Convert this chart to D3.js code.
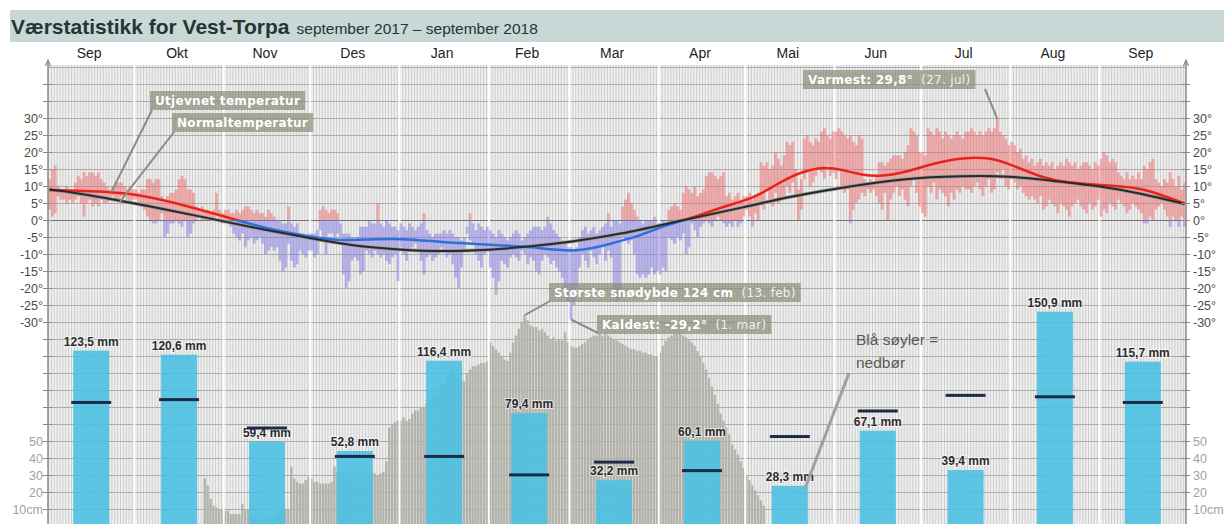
<!DOCTYPE html>
<meta charset="utf-8" />
<style>
  body { margin: 0; background: #fff; }
  text { font-family: "Liberation Sans", Arial, sans-serif; }
  .note text { font-family: "DejaVu Sans", Verdana, sans-serif; font-size: 12px; letter-spacing: 0.3px; fill: #fff; }
</style>
<body>
<script src="https://d3js.org/d3.v7.min.js"></script>
<script>
// month axis
const months = ['Sep', 'Okt', 'Nov', 'Des', 'Jan', 'Feb', 'Mar', 'Apr', 'Mai', 'Jun', 'Jul', 'Aug', 'Sep'];
const monthDays = [30, 31, 30, 31, 31, 28, 31, 30, 31, 30, 31, 31, 30];

// monthly precipitation (mm) and normal precipitation
const precip = [123.5, 120.6, 59.4, 52.8, 116.4, 79.4, 32.2, 60.1, 28.3, 67.1, 39.4, 150.9, 115.7];
const precipNormal = [87, 89, 69, 49, 49, 36, 45, 39, 63, 81, 92, 91, 87];

const tempTicks = [30, 25, 20, 15, 10, 5, 0, -5, -10, -15, -20, -25, -30];
const snowTicks = [10, 20, 30, 40, 50];

// daily max / min temperature, 1 Sep 2017 - 30 Sep 2018
const tmax = [
  12,15,16,10,9,9,10,9,9,11,13,12,14,13,14,14,13,14,12,11,10,9,10,11,11,11,10,9,10,9,
  9,8,9,9,12,12,11,12,12,7,6,7,8,8,9,12,13,12,9,9,8,4,3,4,3,3,2,3,8,3,2,
  3,3,2,2,3,2,3,4,4,3,2,3,2,2,1,3,2,1,0,0,-1,-1,4,-1,-2,-1,-4,-4,-5,-4,
  -4,-4,-3,3,4,3,2,3,3,2,-1,-4,-4,-4,-5,-6,-5,-2,-2,-2,0,-1,-1,5,-1,-2,0,-1,-2,-2,-3,
  -1,-2,-3,-1,-2,-3,-2,-1,2,-3,-4,-5,-4,-4,-4,-3,-4,-3,-4,-5,-5,-6,-5,-2,2,-1,-3,-1,-2,-3,-2,
  -3,-4,-5,-3,-4,-5,-6,-5,-4,-3,-4,-6,-5,-4,-3,-2,-2,-2,-3,-2,1,-1,-3,-4,-5,-6,-7,-8,
  -8,-9,-8,-5,-3,-2,-4,-3,-2,-4,-3,-2,-1,2,-2,0,0,-1,4,6,8,5,3,1,0,-1,0,0,0,1,-1,
  -1,0,-1,3,4,5,4,3,8,10,9,8,10,7,8,9,13,14,14,13,12,13,14,7,8,6,7,8,6,7,
  7,8,6,7,8,17,16,17,15,16,20,18,16,19,23,22,23,15,9,12,24,25,23,22,24,23,26,27,25,24,26,
  26,27,26,25,24,25,23,22,25,24,12,11,12,11,13,17,17,16,17,18,19,19,19,18,20,22,27,26,25,20,
  20,19,27,26,25,27,26,24,26,25,24,25,26,25,24,26,26,27,26,25,26,25,26,27,26,27,29.8,26,25,24,22,
  23,22,20,21,18,19,17,18,16,17,18,16,17,16,17,15,16,17,16,18,17,16,17,15,16,17,17,16,15,17,16,
  18,20,19,17,18,17,14,13,12,14,12,13,12,14,12,16,15,17,18,12,11,10,12,11,14,12,10,13,9,11
];
const tmin = [
  3,1,2,7,6,6,5,6,5,6,7,5,1,5,6,4,5,4,6,5,5,6,7,6,6,7,7,6,5,6,
  6,5,4,3,1,0,-1,-1,0,2,-5,-4,-1,-1,0,-1,-2,0,-5,-4,-1,0,1,0,0,1,0,0,1,0,-1,
  0,-1,-2,-4,-5,-6,-4,-8,-6,-5,-7,-6,-5,-7,-10,-9,-8,-9,-8,-12,-15,-14,-7,-12,-14,-13,-9,-10,-11,-9,
  -9,-11,-10,-3,-6,-10,-4,-4,-5,-4,-5,-16,-20,-18,-12,-11,-12,-16,-15,-9,-10,-11,-9,-10,-11,-10,-12,-13,-11,-10,-18,
  -8,-10,-12,-9,-8,-7,-9,-12,-16,-11,-10,-12,-11,-10,-8,-9,-11,-10,-13,-17,-20,-14,-9,-4,-6,-7,-10,-12,-14,-10,-9,
  -14,-17,-22,-18,-12,-13,-14,-11,-10,-11,-12,-9,-10,-13,-11,-12,-15,-16,-12,-10,-11,-13,-12,-14,-15,-17,-20,-24,
  -29.2,-25,-20,-14,-10,-12,-14,-9,-11,-13,-10,-8,-12,-9,-11,-20,-24,-23,-5,-6,-7,-6,-10,-16,-17,-16,-17,-16,-14,-16,-15,
  -16,-14,-15,-5,-6,-7,-5,-6,-4,-10,-8,-1,-3,-5,-2,-1,0,-1,-2,0,1,0,-1,-2,-1,-2,0,-2,-1,1,
  3,1,-2,2,0,5,3,9,6,4,8,5,6,7,10,8,11,7,0,3,12,14,10,11,13,15,14,12,16,13,14,
  12,15,10,8,9,-1,3,5,6,8,7,9,8,9,7,5,3,8,0,6,8,10,7,9,6,4,10,12,8,4,
  2,1,10,8,11,6,9,8,7,4,8,6,9,8,10,9,9,8,10,11,9,7,10,12,8,9,14,12,15,10,9,
  12,11,9,10,8,7,6,7,6,5,7,3,4,6,5,4,2,5,4,3,1,4,5,6,4,3,2,5,3,4,6,
  1,3,2,5,4,3,6,5,4,2,3,5,4,3,2,-1,-1,1,0,3,4,5,3,1,-2,1,0,-2,1,-2
];

// daily snow depth (cm) from 25 Oct 2017
const snowFirstDay = '2017-10-25';
const snow = [
  28,24,16,12,11,10,10,9,9,7,7,7,7,13,10,10,
  5,5,4,4,4,4,5,5,6,7, 9,10,10,10,
  35,28,26,25,25,27,29,28,26,26,25,25,25,25,26,35,32,
  31,32,32,31,31,31,32,32,31,31,31,
  31,31,30,31,32,38,58,60,61,62,
  62,64,62,63,66,68,68,70,70,
  72,74,76,78,80,82,84,88,92,93,90,87,
  86,85,90,92,94,94,95,96,96,97,
  108,106,104,102,100,98,97,102,108,112,116,120,124,
  121,118,117,117,115,116,114,112,110,111,109,110,109,114,108,
  106,105,105,106,107,108,110,111,112,112,113,112,113,112,111,110,109,108,107,106,105,104,104,103,103,102,102,101,101,100,100,
  102,106,109,111,112,113,113,113,112,111,110,108,106,103,100,
  96,92,87,82,77,72,66,62,58,54,48,45,42,38,34,30,27,24,21,18,15,12
];

// smoothed temperature ("Utjevnet") and normal temperature
const smoothDates = ['2017-09-01','2017-09-15','2017-10-01','2017-10-15','2017-11-01','2017-11-15','2017-12-01','2017-12-10',
  '2017-12-20','2018-01-01','2018-01-15','2018-02-01','2018-02-15','2018-03-03','2018-03-17','2018-03-24','2018-04-03',
  '2018-04-10','2018-04-21','2018-05-01','2018-05-05','2018-05-13','2018-05-20','2018-05-28','2018-06-03','2018-06-10',
  '2018-06-17','2018-06-25','2018-07-05','2018-07-15','2018-07-25','2018-08-01','2018-08-12','2018-08-20','2018-09-01',
  '2018-09-13','2018-09-19','2018-09-30'];
const smoothTemp = [8.8, 8.5, 7.8, 5, 1, -2.5, -5, -6, -5.8, -5.4, -6.5, -7.3, -7.8, -9.8, -6.4, -4.9, -1.5,
  0, 3.4, 5.9, 7.2, 11.3, 14.2, 15.7, 14.8, 13.2, 12.8, 14, 16.7, 18.4, 18.4, 16.2, 12.3, 11, 10.3, 9.6, 8.3, 4.9];
const normalDates = ['2017-09-01','2017-09-15','2017-10-01','2017-10-15','2017-11-01','2017-11-15','2017-12-01','2017-12-15',
  '2018-01-01','2018-01-15','2018-02-01','2018-02-15','2018-03-01','2018-03-17','2018-04-09','2018-05-01','2018-05-15',
  '2018-06-01','2018-06-25','2018-07-15','2018-08-01','2018-08-12','2018-09-01','2018-09-15','2018-09-30'];
const normalTemp = [9, 7.4, 4.8, 2.5, -0.5, -2.9, -5.4, -7.6, -8.8, -9.3, -8.8, -7.8, -6.4, -4.4, 0, 3.9, 6.7,
  9.3, 12.3, 13, 12.9, 11.8, 10, 7.8, 4.7];

const start = new Date('2017-09-01');
const dayOf = s => d3.utcDay.count(start, new Date(s));
const nDays = d3.sum(monthDays);
const monthStart = monthDays.map((d, i) => d3.sum(monthDays.slice(0, i)));

const W = 1224, H = 524;
const x = d3.scaleLinear().domain([0, nDays]).range([48, 1186]);
const yT = d3.scaleLinear().domain([-30, 30]).range([322, 118]);
const ySnow = d3.scaleLinear().domain([0, 50]).range([526, 441]);
const yPrec = d3.scaleLinear().domain([0, 100]).range([526, 384]);
const plotTop = yT(45) - 2;

const svg = d3.select('body').append('svg').attr('width', W).attr('height', H);

// title band
svg.append('rect').attr('x', 10).attr('y', 10).attr('width', W - 10).attr('height', 32).attr('fill', '#c9d7d6');
const title = svg.append('text').attr('x', 11).attr('y', 34).attr('fill', '#243535');
title.append('tspan').attr('font-size', 21).attr('font-weight', 'bold').text('Værstatistikk for Vest-Torpa');
title.append('tspan').attr('font-size', 15.5).attr('dx', 7).text('september 2017 – september 2018');

// month labels
svg.selectAll('.month').data(months).enter().append('text')
  .attr('x', (d, i) => x(monthStart[i] + monthDays[i] / 2) - 2)
  .attr('y', 58).attr('text-anchor', 'middle').attr('font-size', 14).attr('fill', '#222')
  .text(d => d);

// plot background
svg.append('clipPath').attr('id', 'plot').append('rect')
  .attr('x', x(0)).attr('y', plotTop).attr('width', x(nDays) - x(0)).attr('height', H - plotTop);
const g = svg.append('g').attr('clip-path', 'url(#plot)');
g.append('rect').attr('x', x(0)).attr('y', plotTop).attr('width', x(nDays) - x(0)).attr('height', H - plotTop).attr('fill', '#efefef');

// daily vertical lines
g.selectAll('.day').data(d3.range(nDays)).enter().append('line')
  .attr('x1', d => x(d) + 0.5).attr('x2', d => x(d) + 0.5).attr('y1', plotTop).attr('y2', H)
  .attr('stroke', '#cdcdcd').attr('stroke-width', 1);

// horizontal grid every 5 degrees
const gridVals = d3.range(45, -91, -5);
g.selectAll('.hgrid').data(gridVals).enter().append('line')
  .attr('x1', x(0)).attr('x2', x(nDays)).attr('y1', d => Math.round(yT(d)) + 0.5).attr('y2', d => Math.round(yT(d)) + 0.5)
  .attr('stroke', d => d === 0 ? '#747474' : '#acacac').attr('stroke-width', 1);

// snow depth
const snow0 = dayOf(snowFirstDay);
g.selectAll('.snow').data(snow).enter().append('rect')
  .attr('x', (d, i) => x(snow0 + i)).attr('width', x(1) - x(0) - 0.5)
  .attr('y', d => ySnow(d)).attr('height', d => ySnow(0) - ySnow(d) + 2)
  .attr('fill', '#b3b3ab');

// month boundaries
g.selectAll('.mline').data(monthStart.slice(1)).enter().append('line')
  .attr('x1', d => x(d)).attr('x2', d => x(d)).attr('y1', plotTop).attr('y2', H)
  .attr('stroke', '#fff').attr('stroke-width', 2);

// precipitation bars
const bw = 36;
const mid = i => x(monthStart[i] + monthDays[i] / 2);
g.selectAll('.prec').data(precip).enter().append('rect')
  .attr('x', (d, i) => mid(i) - bw / 2).attr('width', bw)
  .attr('y', d => yPrec(d)).attr('height', d => yPrec(0) - yPrec(d) + 2)
  .attr('fill', 'rgb(72,192,226)').attr('opacity', 0.88);

// precipitation labels
g.selectAll('.plab').data(precip).enter().append('text')
  .attr('x', (d, i) => mid(i)).attr('y', d => yPrec(d) - 5)
  .attr('text-anchor', 'middle').attr('font-size', 12).attr('font-weight', 'bold').attr('fill', '#2b2b2b')
  .attr('stroke', 'rgba(255,255,255,0.6)').attr('stroke-width', 2).attr('paint-order', 'stroke')
  .text(d => d3.format('.1f')(d).replace('.', ',') + ' mm');

// normal precipitation
g.selectAll('.pnorm').data(precipNormal).enter().append('rect')
  .attr('x', (d, i) => mid(i) - 20).attr('width', 40)
  .attr('y', d => yPrec(d) - 1.5).attr('height', 3)
  .attr('fill', '#1d2b48');

// daily temperature bars
const dw = x(1) - x(0);
const days = d3.range(nDays);
g.selectAll('.twarm').data(days.filter(i => tmax[i] > 0)).enter().append('rect')
  .attr('x', i => x(i)).attr('width', dw)
  .attr('y', i => yT(tmax[i])).attr('height', i => yT(Math.max(tmin[i], 0)) - yT(tmax[i]))
  .attr('fill', 'rgba(238,105,105,0.5)');
g.selectAll('.tcold').data(days.filter(i => tmin[i] < 0)).enter().append('rect')
  .attr('x', i => x(i)).attr('width', dw)
  .attr('y', i => yT(Math.min(tmax[i], 0))).attr('height', i => yT(tmin[i]) - yT(Math.min(tmax[i], 0)))
  .attr('fill', 'rgba(125,115,225,0.48)');

// smoothed and normal temperature lines
const line = d3.line().x(d => x(d[0])).y(d => yT(d[1])).curve(d3.curveBasis);
const normalPts = normalDates.map((s, i) => [dayOf(s) + 0.5, normalTemp[i]]);
const smoothPts = smoothDates.map((s, i) => [dayOf(s) + 0.5, smoothTemp[i]]);

const grad = svg.append('defs').append('linearGradient').attr('id', 'tgrad')
  .attr('gradientUnits', 'userSpaceOnUse').attr('x1', 0).attr('x2', 0)
  .attr('y1', yT(0) - 0.5).attr('y2', yT(0) + 0.5);
grad.append('stop').attr('offset', 0).attr('stop-color', '#e8231c');
grad.append('stop').attr('offset', 0.5).attr('stop-color', '#e8231c');
grad.append('stop').attr('offset', 0.5).attr('stop-color', '#2f6fd8');
grad.append('stop').attr('offset', 1).attr('stop-color', '#2f6fd8');

g.append('path').attr('d', line(normalPts)).attr('fill', 'none').attr('stroke', '#999').attr('stroke-width', 3.5);
g.append('path').attr('d', line(smoothPts)).attr('fill', 'none').attr('stroke', 'url(#tgrad)').attr('stroke-width', 2.5);
g.append('path').attr('d', line(normalPts)).attr('fill', 'none').attr('stroke', '#2a2a2a').attr('stroke-width', 2);

// axes
[x(0), x(nDays)].forEach((ax, k) => {
  svg.append('line').attr('x1', ax).attr('x2', ax).attr('y1', plotTop - 4).attr('y2', H)
    .attr('stroke', '#8a8a8a').attr('stroke-width', 1.5);
  svg.append('path').attr('d', `M${ax - 2.5},${plotTop + 1}L${ax},${plotTop - 5}L${ax + 2.5},${plotTop + 1}`)
    .attr('fill', 'none').attr('stroke', '#8a8a8a').attr('stroke-width', 1.2);
  svg.selectAll(null).data(gridVals.slice(1)).enter().append('line')
    .attr('x1', ax - 5).attr('x2', ax + 4).attr('y1', d => Math.round(yT(d)) + 0.5).attr('y2', d => Math.round(yT(d)) + 0.5)
    .attr('stroke', '#8a8a8a');
  const lx = k === 0 ? ax - 5 : ax + 7;
  const anchor = k === 0 ? 'end' : 'start';
  svg.selectAll(null).data(tempTicks).enter().append('text')
    .attr('x', lx).attr('y', d => yT(d) + 4.5).attr('text-anchor', anchor)
    .attr('font-size', 12.5).attr('fill', '#4f4a44').text(d => d + '°');
  svg.selectAll(null).data(snowTicks).enter().append('text')
    .attr('x', lx).attr('y', d => ySnow(d) + 4.5).attr('text-anchor', anchor)
    .attr('font-size', 12.5).attr('fill', '#a2a2a2').text(d => d === 10 ? '10cm' : d);
});

// annotations
function note(bx, by, parts, from, to) {
  const n = svg.append('g').attr('class', 'note');
  n.append('line').attr('x1', from[0]).attr('y1', from[1]).attr('x2', to[0]).attr('y2', to[1])
    .attr('stroke', '#8c8c84').attr('stroke-width', 2);
  const r = n.append('rect').attr('x', bx).attr('y', by).attr('height', 19).attr('fill', 'rgba(140,140,122,0.72)');
  const t = n.append('text').attr('x', bx + 5).attr('y', by + 14);
  parts.forEach(p => t.append('tspan').attr('font-weight', p[1] ? 'bold' : 'normal')
    .attr('fill', p[1] ? '#fff' : '#f2f2ec').text(p[0]));
  r.attr('width', t.node().getComputedTextLength() + 10);
}
note(150, 91, [['Utjevnet temperatur', true]], [152, 110], [x(dayOf('2017-09-23')), yT(8.2)]);
note(172, 113, [['Normaltemperatur', true]], [174, 132], [x(dayOf('2017-09-26')), yT(5.4)]);
note(803, 70, [['Varmest: 29,8°', true], ['\u00a0 (27. jul)', false]], [985, 89], [x(dayOf('2018-07-27') + 0.5), yT(29.8)]);
note(549, 283, [['Største snødybde 124 cm', true], ['\u00a0 (13. feb)', false]], [550, 301], [x(snow0 + snow.indexOf(d3.max(snow)) + 0.5), ySnow(d3.max(snow))]);
note(597, 315, [['Kaldest: -29,2°', true], ['\u00a0 (1. mar)', false]], [598, 333], [x(dayOf('2018-03-01') + 0.5), yT(-29.2)]);

// precipitation hint
svg.append('line').attr('x1', 849).attr('y1', 373).attr('x2', mid(8) + bw / 2 - 3).attr('y2', yPrec(precip[8]) + 3)
  .attr('stroke', '#a0a0a0').attr('stroke-width', 3);
const hint = svg.append('text').attr('font-family', '"Open Sans", sans-serif').attr('font-size', 15.5).attr('fill', '#5a5a5a');
hint.append('tspan').attr('x', 856).attr('y', 345).text('Blå søyler =');
hint.append('tspan').attr('x', 856).attr('y', 368).text('nedbør');
</script>
</body>
